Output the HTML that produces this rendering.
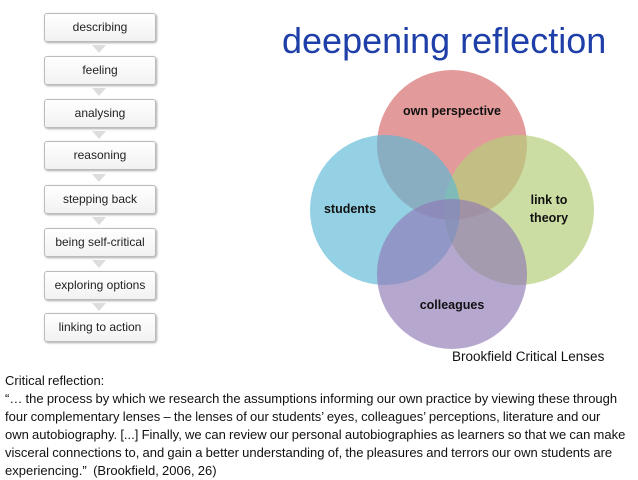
<!DOCTYPE html>
<html><head><meta charset="utf-8"><style>
body{margin:0;width:638px;height:479px;background:#fff;position:relative;overflow:hidden;font-family:"Liberation Sans",sans-serif}
.b{position:absolute;left:44px;width:110px;height:27px;border:1px solid #bbb;border-radius:3px;background:linear-gradient(#fff,#f2f2f2);box-shadow:1px 1px 2px #aaa;font-size:12px;color:#222;text-align:center;line-height:27px}
.a{position:absolute;left:92px;width:0;height:0;border-left:7px solid transparent;border-right:7px solid transparent;border-top:8px solid #ddd}
.t{position:absolute;font-size:13px;color:#111}
</style></head><body>
<div class="b" style="top:13px">describing</div>
<div class="b" style="top:56px">feeling</div>
<div class="b" style="top:99px">analysing</div>
<div class="b" style="top:141px">reasoning</div>
<div class="b" style="top:185px">stepping back</div>
<div class="b" style="top:228px">being self-critical</div>
<div class="b" style="top:271px">exploring options</div>
<div class="b" style="top:313px">linking to action</div>
<div class="a" style="top:45px"></div><div class="a" style="top:88px"></div><div class="a" style="top:131px"></div><div class="a" style="top:174px"></div><div class="a" style="top:217px"></div><div class="a" style="top:260px"></div><div class="a" style="top:303px"></div>
<div style="position:absolute;left:282px;top:20px;font-size:36px;color:#1f3fa8">deepening reflection</div>
<svg style="position:absolute;left:0;top:0" width="638" height="479">
<circle cx="452" cy="145" r="75" fill="#d9787a" fill-opacity="0.75"/>
<circle cx="519" cy="210" r="75" fill="#b5cf7a" fill-opacity="0.7"/>
<circle cx="385" cy="210" r="75" fill="#5ab8d6" fill-opacity="0.65"/>
<circle cx="452" cy="274" r="75" fill="#8f78b5" fill-opacity="0.65"/>
<g font-family="Liberation Sans" font-weight="bold" font-size="12.5" fill="#111" text-anchor="middle">
<text x="452" y="115">own perspective</text>
<text x="350" y="213">students</text>
<text x="549" y="204">link to</text>
<text x="549" y="222">theory</text>
<text x="452" y="309">colleagues</text>
</g>
</svg>
<div class="t" style="left:452px;top:349px;font-size:13.5px">Brookfield Critical Lenses</div>
<div class="t" style="left:5px;top:372px;line-height:18px;white-space:nowrap;letter-spacing:0;word-spacing:-0.4px">Critical reflection:<br>“… the process by which we research the assumptions informing our own practice by viewing these through<br>four complementary lenses – the lenses of our students’ eyes, colleagues’ perceptions, literature and our<br>own autobiography. [...] Finally, we can review our personal autobiographies as learners so that we can make<br>visceral connections to, and gain a better understanding of, the pleasures and terrors our own students are<br>experiencing.”&nbsp; (Brookfield, 2006, 26)</div>
</body></html>
